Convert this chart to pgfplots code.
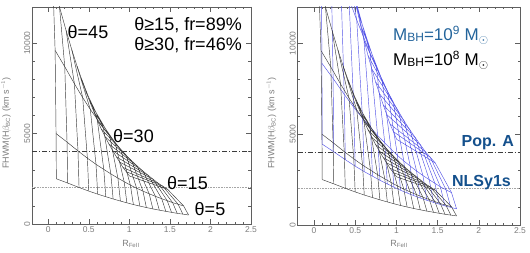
\documentclass[border=0pt]{standalone}
\usepackage{fontspec}
\setmainfont{Liberation Sans}
\usepackage{pgfplots}
\pgfplotsset{compat=1.18}
\definecolor{txtblue}{RGB}{35,100,155}
\definecolor{popblue}{RGB}{20,80,140}
\definecolor{gridblue}{RGB}{85,85,230}
\definecolor{gridblk}{RGB}{60,60,60}
\definecolor{ticklab}{RGB}{125,125,125}
\definecolor{axcol}{RGB}{95,95,95}
\pgfplotsset{
 panel/.style={
  scale only axis, anchor=south west,
  xmin=-0.2,xmax=2.5,ymin=0,ymax=12000,
  xtick={0,0.5,1,1.5,2,2.5}, xticklabels={0,0.5,1,1.5,2,2.5},
  ytick={0,5000,10000}, yticklabels={0,5000,10000},
  scaled x ticks=false, scaled y ticks=false,
  minor x tick num=4, minor y tick num=4,
  tick align=inside, xtick pos=both, ytick pos=both,
  major tick length=5pt, minor tick length=2.5pt,
  axis line style={axcol, line width=0.6pt},
  every tick/.style={axcol, line width=0.5pt},
  tick label style={ticklab, font=\fontsize{8.5}{10}\selectfont},
  xticklabel style={inner sep=2.5pt},
  yticklabel style={rotate=90, anchor=south, inner sep=1.5pt},
  clip=true,
 },
 blk/.style={gridblk, line width=0.45pt, no marks},
 blu/.style={gridblue, line width=0.45pt, no marks},
 dd/.style={color={rgb,255:red,60;green,60;blue,60}, line width=0.5pt, dash pattern=on 5pt off 2pt on 1pt off 2pt},
 dt/.style={color={rgb,255:red,165;green,165;blue,165}, line width=0.7pt, dash pattern=on 0.8pt off 0.8pt},
}
\newcommand\RefLines{%
 \addplot[dt] coordinates {(-0.2,2000) (2.5,2000)};
 \addplot[dd] coordinates {(-0.2,4000) (2.5,4000)};
}
\newcommand\BlackGrid{%
 % theta = 5, 15, 30, 45
 \addplot[blk] coordinates {(0.10,2500)(0.24,2265)(0.38,2020)(0.50,1820)(0.61,1650)(0.71,1510)(0.80,1385)(0.89,1270)(0.97,1170)(1.05,1075)(1.13,990)(1.21,910)(1.29,835)(1.37,765)(1.45,700)(1.52,645)(1.59,590)(1.66,545)(1.73,500)};
 \addplot[blk] coordinates {(0.0965,5000)(0.232,4530)(0.367,4040)(0.483,3640)(0.589,3300)(0.685,3020)(0.772,2770)(0.859,2540)(0.936,2340)(1.013,2150)(1.090,1980)(1.168,1820)(1.245,1670)(1.322,1530)(1.399,1400)(1.467,1290)(1.534,1180)(1.602,1090)(1.669,1000)};
 \addplot[blk] coordinates {(0.085,9600)(0.204,8698)(0.323,7757)(0.425,6989)(0.519,6336)(0.604,5798)(0.680,5318)(0.757,4877)(0.825,4493)(0.893,4128)(0.961,3802)(1.029,3494)(1.097,3206)(1.165,2938)(1.233,2688)(1.292,2477)(1.352,2266)(1.411,2093)(1.471,1920)};
 \addplot[blk] coordinates {(0.058,13250)(0.139,12005)(0.220,10706)(0.290,9646)(0.354,8745)(0.412,8003)(0.464,7341)(0.516,6731)(0.563,6201)(0.609,5698)(0.655,5247)(0.702,4823)(0.748,4426)(0.795,4055)(0.841,3710)(0.882,3419)(0.922,3127)(0.963,2889)(1.003,2650)};
 \addplot[blk, unbounded coords=jump] coordinates {
 (0.10,2500)(0.0965,5000)(0.085,9600)(0.058,13250) (0,nan)
 (0.24,2265)(0.232,4530)(0.204,8698)(0.139,12005) (0,nan)
 (0.38,2020)(0.367,4040)(0.323,7757)(0.220,10706) (0,nan)
 (0.50,1820)(0.483,3640)(0.425,6989)(0.290,9646) (0,nan)
 (0.61,1650)(0.589,3300)(0.519,6336)(0.354,8745) (0,nan)
 (0.71,1510)(0.685,3020)(0.604,5798)(0.412,8003) (0,nan)
 (0.80,1385)(0.772,2770)(0.680,5318)(0.464,7341) (0,nan)
 (0.89,1270)(0.859,2540)(0.757,4877)(0.516,6731) (0,nan)
 (0.97,1170)(0.936,2340)(0.825,4493)(0.563,6201) (0,nan)
 (1.05,1075)(1.013,2150)(0.893,4128)(0.609,5698) (0,nan)
 (1.13,990)(1.090,1980)(0.961,3802)(0.655,5247) (0,nan)
 (1.21,910)(1.168,1820)(1.029,3494)(0.702,4823) (0,nan)
 (1.29,835)(1.245,1670)(1.097,3206)(0.748,4426) (0,nan)
 (1.37,765)(1.322,1530)(1.165,2938)(0.795,4055) (0,nan)
 (1.45,700)(1.399,1400)(1.233,2688)(0.841,3710) (0,nan)
 (1.52,645)(1.467,1290)(1.292,2477)(0.882,3419) (0,nan)
 (1.59,590)(1.534,1180)(1.352,2266)(0.922,3127) (0,nan)
 (1.66,545)(1.602,1090)(1.411,2093)(0.963,2889) (0,nan)
 (1.73,500)(1.669,1000)(1.471,1920)(1.003,2650)
 };
}
\newcommand\BlueGrid{%
 \addplot[blu] coordinates {(0.10,4450)(0.24,4032)(0.38,3596)(0.50,3240)(0.61,2937)(0.71,2688)(0.80,2465)(0.89,2261)(0.97,2083)(1.05,1914)(1.13,1762)(1.21,1620)(1.29,1486)(1.37,1362)(1.45,1246)(1.52,1148)(1.59,1050)(1.66,970)(1.73,890)};
 \addplot[blu] coordinates {(0.0965,8900)(0.232,8064)(0.367,7192)(0.483,6480)(0.589,5874)(0.685,5376)(0.772,4930)(0.859,4522)(0.936,4166)(1.013,3828)(1.090,3524)(1.168,3240)(1.245,2972)(1.322,2724)(1.399,2492)(1.467,2296)(1.534,2100)(1.602,1940)(1.669,1780)};
 \addplot[blu] coordinates {(0.085,17088)(0.204,15483)(0.323,13809)(0.425,12442)(0.519,11278)(0.604,10322)(0.680,9466)(0.757,8682)(0.825,7999)(0.893,7350)(0.961,6766)(1.029,6221)(1.097,5706)(1.165,5230)(1.233,4785)(1.292,4408)(1.352,4032)(1.411,3725)(1.471,3418)};
 \addplot[blu] coordinates {(0.058,23585)(0.139,21370)(0.220,19059)(0.290,17172)(0.354,15566)(0.412,14246)(0.464,13065)(0.516,11983)(0.563,11040)(0.609,10144)(0.655,9339)(0.702,8586)(0.748,7876)(0.795,7219)(0.841,6604)(0.882,6084)(0.922,5565)(0.963,5141)(1.003,4717)};
 \addplot[blu, unbounded coords=jump] coordinates {
 (0.10,4450)(0.0965,8900)(0.085,17088)(0.058,23585) (0,nan)
 (0.24,4032)(0.232,8064)(0.204,15483)(0.139,21370) (0,nan)
 (0.38,3596)(0.367,7192)(0.323,13809)(0.220,19059) (0,nan)
 (0.50,3240)(0.483,6480)(0.425,12442)(0.290,17172) (0,nan)
 (0.61,2937)(0.589,5874)(0.519,11278)(0.354,15566) (0,nan)
 (0.71,2688)(0.685,5376)(0.604,10322)(0.412,14246) (0,nan)
 (0.80,2465)(0.772,4930)(0.680,9466)(0.464,13065) (0,nan)
 (0.89,2261)(0.859,4522)(0.757,8682)(0.516,11983) (0,nan)
 (0.97,2083)(0.936,4166)(0.825,7999)(0.563,11040) (0,nan)
 (1.05,1914)(1.013,3828)(0.893,7350)(0.609,10144) (0,nan)
 (1.13,1762)(1.090,3524)(0.961,6766)(0.655,9339) (0,nan)
 (1.21,1620)(1.168,3240)(1.029,6221)(0.702,8586) (0,nan)
 (1.29,1486)(1.245,2972)(1.097,5706)(0.748,7876) (0,nan)
 (1.37,1362)(1.322,2724)(1.165,5230)(0.795,7219) (0,nan)
 (1.45,1246)(1.399,2492)(1.233,4785)(0.841,6604) (0,nan)
 (1.52,1148)(1.467,2296)(1.292,4408)(0.882,6084) (0,nan)
 (1.59,1050)(1.534,2100)(1.352,4032)(0.922,5565) (0,nan)
 (1.66,970)(1.602,1940)(1.411,3725)(0.963,5141) (0,nan)
 (1.73,890)(1.669,1780)(1.471,3418)(1.003,4717)
 };
}
\begin{document}
\begin{tikzpicture}
\useasboundingbox (0pt,0pt) rectangle (530pt,252pt);
% left panel
\begin{axis}[panel, at={(32pt,28pt)}, width=219pt, height=217pt]
\RefLines
\BlackGrid
\end{axis}
% right panel
\begin{axis}[panel, at={(297.5pt,27pt)}, width=222.5pt, height=218pt]
\RefLines
\BlueGrid
\BlackGrid
\end{axis}
% axis labels
\node[rotate=90, ticklab, font=\fontsize{9}{10}\selectfont] at (6pt,129pt) {FHWM(H$\beta_{\mathrm{BC}}$) (km s$^{-1}$)};
\node[rotate=90, ticklab, font=\fontsize{9}{10}\selectfont] at (271.5pt,129pt) {FHWM(H$\beta_{\mathrm{BC}}$) (km s$^{-1}$)};
\node[ticklab, font=\fontsize{9}{10}\selectfont] at (131pt,8pt) {R\textsubscript{FeII}};
\node[ticklab, font=\fontsize{9}{10}\selectfont] at (399pt,8pt) {R\textsubscript{FeII}};
% left annotations
\begin{scope}[every node/.style={font=\fontsize{18}{20}\selectfont, inner sep=0pt}]
\node at (88pt,220pt) {θ=45};
\node[anchor=east] at (242pt,227pt) {θ≥15, fr=89\%};
\node[anchor=east] at (242pt,207pt) {θ≥30, fr=46\%};
\node at (133.5pt,116pt) {θ=30};
\node at (187.5pt,69pt) {θ=15};
\node at (210pt,43pt) {θ=5};
\end{scope}
% right annotations
\begin{scope}[every node/.style={font=\fontsize{17}{19}\selectfont, inner sep=0pt, anchor=west}]
\node[txtblue] at (393pt,217pt) {M\raisebox{-0.05em}{\fontsize{12}{12}\selectfont BH}=10\textsuperscript{9} M$_\odot$};
\node[black] at (393pt,192pt) {M\raisebox{-0.05em}{\fontsize{12}{12}\selectfont BH}=10\textsuperscript{8} M$_\odot$};
\end{scope}
\node[popblue, anchor=east, inner sep=0pt, font=\fontsize{16}{18}\selectfont\bfseries] at (514pt,109pt) {Pop. A};
\node[popblue, anchor=east, inner sep=0pt, font=\fontsize{16}{18}\selectfont\bfseries] at (511pt,69pt) {NLSy1s};
\end{tikzpicture}
\end{document}
